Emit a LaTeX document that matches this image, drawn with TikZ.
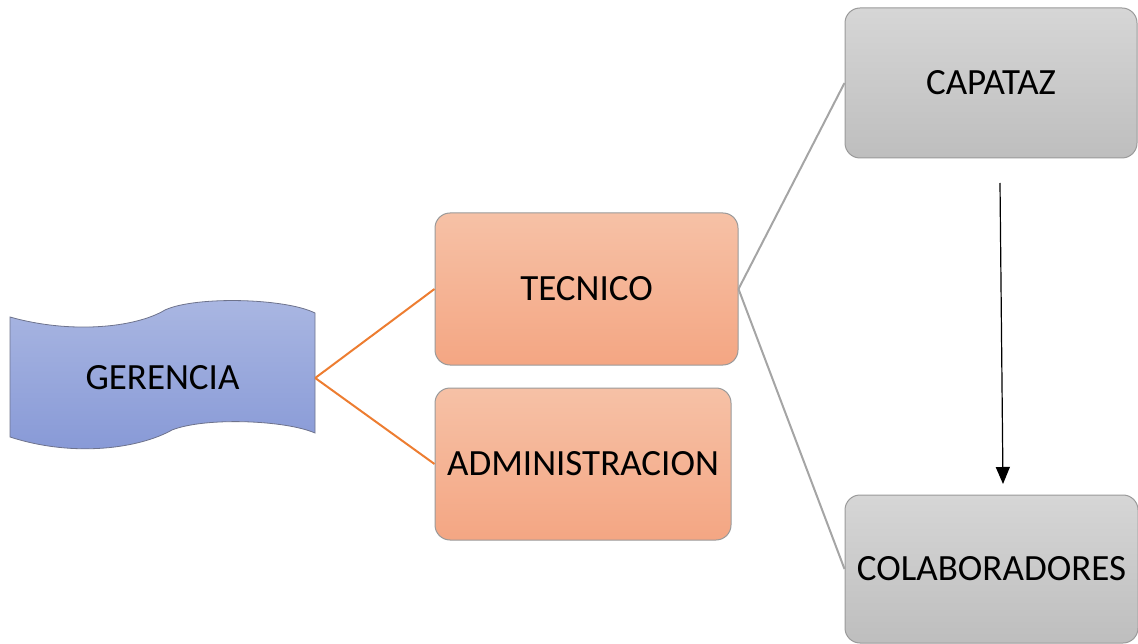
\documentclass[tikz,border=0pt]{standalone}
\usepackage{fontspec}
\setmainfont{Carlito}
\usetikzlibrary{arrows.meta}
\definecolor{orgline}{HTML}{ED7D31}
\definecolor{grisline}{HTML}{A5A5A5}
\definecolor{borde}{HTML}{9A9A9A}
\tikzset{
  cargo/.style={draw=borde, line width=1pt, rounded corners=15pt, font=\fontsize{37}{40}\selectfont},
  naranja/.style={cargo, top color={rgb,255:red,246;green,193;blue,166}, bottom color={rgb,255:red,244;green,166;blue,131}},
  gris/.style={cargo, top color={rgb,255:red,214;green,214;blue,214}, bottom color={rgb,255:red,190;green,190;blue,190}},
  enlace/.style={line width=2pt}
}
\begin{document}
\begin{tikzpicture}[x=1pt, y=-1pt]
    \useasboundingbox (0, 0) rectangle (1138, 644);
    % banner
    \shade[top color={rgb,255:red,170;green,183;blue,226}, bottom color={rgb,255:red,134;green,152;blue,214}, draw={rgb,255:red,110;green,115;blue,140}, line width=0.8pt]
        (10, 317) .. controls (70, 334) and (135, 328) .. (165, 310)
        .. controls (195, 296) and (285, 298) .. (315, 313) -- (315, 433)
        .. controls (285, 420) and (205, 417) .. (172, 430)
        .. controls (140, 448) and (75, 458) .. (10, 437) -- cycle;
    \node[minimum width=305pt, minimum height=120pt, font=\fontsize{37}{40}\selectfont] (gerencia) at (162.5, 378) {GERENCIA};
    % areas
    \node[naranja, minimum width=303pt, minimum height=152pt] (tecnico) at (586.5, 289) {TECNICO};
    \node[naranja, minimum width=296pt, minimum height=152pt] (admin) at (583, 464) {ADMINISTRACION};
    \node[gris, minimum width=292pt, minimum height=150pt] (capataz) at (991, 83) {CAPATAZ};
    \node[gris, minimum width=293pt, minimum height=148pt] (colab) at (991.5, 569) {COLABORADORES};
    \draw[enlace, orgline] (gerencia.east) -- (tecnico.west);
    \draw[enlace, orgline] (gerencia.east) -- (admin.west);
    \draw[enlace, grisline] (tecnico.east) -- (capataz.west);
    \draw[enlace, grisline] (tecnico.east) -- (colab.west);
    % flecha
    \coordinate (desde) at (1000, 183);
    \coordinate (hasta) at (1003, 484);
    \draw[-{Triangle[length=17pt, width=14pt]}, line width=1.2pt] (desde) -- (hasta);
\end{tikzpicture}
\end{document}
